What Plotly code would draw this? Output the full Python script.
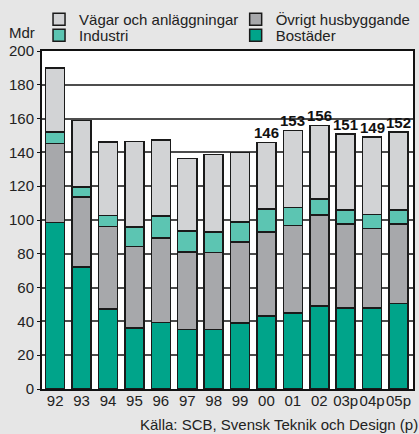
import plotly.graph_objects as go

years = ["92", "93", "94", "95", "96", "97", "98", "99", "00", "01", "02", "03p", "04p", "05p"]
bostader = [98.5, 72.1, 47.3, 36.2, 39.4, 35.1, 35.1, 39.0, 43.2, 44.9, 49.2, 47.9, 47.9, 50.6]
ovrigt = [46.9, 41.4, 48.8, 48.1, 50.0, 46.1, 45.7, 47.9, 49.8, 51.8, 53.8, 49.6, 47.0, 46.9]
industri = [6.6, 5.9, 6.5, 11.7, 12.9, 12.2, 12.0, 12.0, 13.4, 10.7, 9.3, 8.5, 8.5, 8.5]
vagar = [38.0, 39.6, 43.6, 50.4, 44.9, 42.9, 46.1, 41.0, 39.6, 45.6, 43.7, 45.0, 45.6, 46.0]
top_labels = [None, None, None, None, None, None, None, None, 146, 153, 156, 151, 149, 152]

FONT = "Liberation Sans, Arial, Helvetica, sans-serif"
NARROW = "Liberation Sans Narrow, Arial Narrow, Liberation Sans, sans-serif"
LINE = dict(color="#1a1a1a", width=1.5)

series = [
    ("Bostäder", bostader, "#00a48a", "legend4"),
    ("Övrigt husbyggande", ovrigt, "#a7a8ab", "legend2"),
    ("Industri", industri, "#5cc5b2", "legend3"),
    ("Vägar och anläggningar", vagar, "#d2d3d5", "legend"),
]

fig = go.Figure()
for name, vals, color, leg in series:
    fig.add_trace(go.Bar(
        x=years, y=vals, name=name, marker=dict(color=color, line=LINE),
        legend=leg,
    ))

totals = [b + o + i + v for b, o, i, v in zip(bostader, ovrigt, industri, vagar)]
for idx, (tot, lab) in enumerate(zip(totals, top_labels)):
    if lab is None:
        continue
    fig.add_annotation(x=idx, y=tot, text=f"<b>{lab}</b>", showarrow=False,
                       yanchor="bottom", yshift=-1,
                       font=dict(family=NARROW, size=15, color="#111"))

fig.add_annotation(xref="paper", yref="paper", x=-0.013, y=1.054, text="Mdr",
                   showarrow=False, xanchor="right", yanchor="middle",
                   font=dict(family=FONT, size=15, color="#222"))
fig.add_annotation(xref="paper", yref="paper", x=1.02, y=-0.105,
                   text="Källa: SCB, Svensk Teknik och Design (p)",
                   showarrow=False, xanchor="right", yanchor="middle",
                   font=dict(family=FONT, size=15, color="#222"))

legend_common = dict(orientation="v", yanchor="top", xanchor="left",
                     bgcolor="rgba(0,0,0,0)", traceorder="normal",
                     font=dict(family=FONT, size=15, color="#222"),
                     itemwidth=30, tracegroupgap=0)

fig.update_layout(
    width=419, height=434,
    margin=dict(l=42, r=6, t=51, b=45, autoexpand=False),
    paper_bgcolor="#e6e6e6", plot_bgcolor="#ffffff",
    barmode="stack", bargap=0.28,
    font=dict(family=FONT, size=15, color="#222"),
    showlegend=True,
    legend=dict(x=-0.008, y=1.142, **legend_common),
    legend2=dict(x=0.522, y=1.142, **legend_common),
    legend3=dict(x=-0.008, y=1.095, **legend_common),
    legend4=dict(x=0.522, y=1.095, **legend_common),
)
fig.update_yaxes(range=[0, 200], dtick=20, showgrid=True, gridcolor="#4d4d4d", gridwidth=1.5,
                 showline=True, linecolor="#111", linewidth=2, mirror=True,
                 ticks="outside", ticklen=3, tickcolor="#111", zeroline=False,
                 tickfont=dict(family=FONT, size=15, color="#222"))
fig.update_xaxes(type="category", showline=True, linecolor="#111", linewidth=2, mirror=True,
                 ticks="", tickangle=0, ticklabelstandoff=-3,
                 tickfont=dict(family=FONT, size=15, color="#222"))

fig.write_html("out.html", config={"displayModeBar": False},
               post_script="document.body.style.margin='0';")
